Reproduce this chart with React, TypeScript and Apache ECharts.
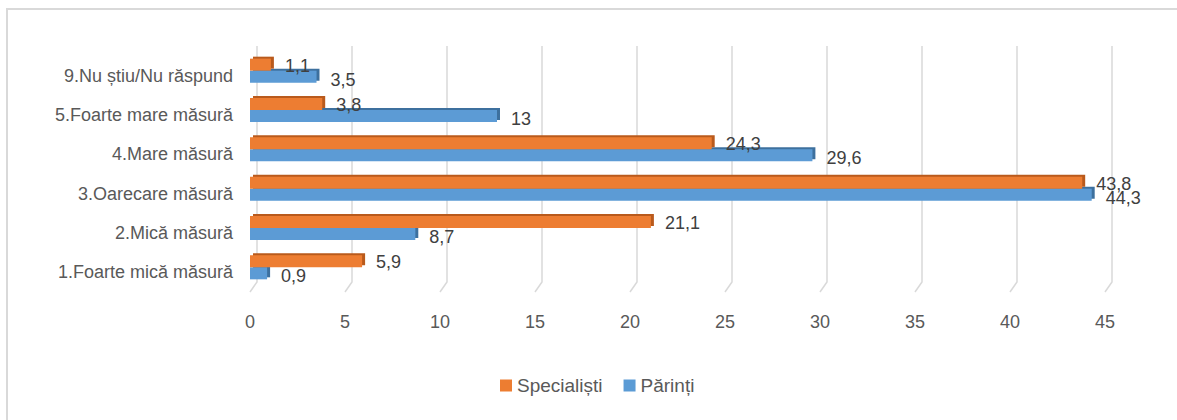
import React, { useEffect, useRef } from "react";
import * as echarts from "echarts";

const categories = [
  "1.Foarte mică măsură",
  "2.Mică măsură",
  "3.Oarecare măsură",
  "4.Mare măsură",
  "5.Foarte mare măsură",
  "9.Nu știu/Nu răspund",
];
const specialisti = [5.9, 21.1, 43.8, 24.3, 3.8, 1.1];
const parinti = [0.9, 8.7, 44.3, 29.6, 13, 3.5];
const xTicks = [0, 5, 10, 15, 20, 25, 30, 35, 40, 45];
const seriesNames = ["Specialiști", "Părinți"];

const FONT = "'Liberation Sans', Arial, sans-serif";
const fmt = (v: number) => String(v).replace(".", ",");

export default function App() {
  const ref = useRef<HTMLDivElement>(null);
  useEffect(() => {
    if (!ref.current) return;
    const chart = echarts.init(ref.current, undefined, { renderer: "svg" });
    const mkLabel = (dy: number) => ({
      show: true,
      position: "right",
      distance: 14,
      offset: [0, dy],
      color: "#404040",
      fontSize: 18,
      fontFamily: FONT,
      formatter: (p: any) => fmt(p.value),
    });
    chart.setOption({
      animation: false,
      backgroundColor: "transparent",
      textStyle: { fontFamily: FONT },
      grid: [
        { left: 250, right: 72, top: 51, bottom: 133 },
        { left: 250, right: 72, top: 56, bottom: 128 },
      ],
      xAxis: [
        {
          type: "value",
          gridIndex: 0,
          min: 0,
          max: 45,
          interval: 5,
          splitLine: { show: false },
          axisLine: { show: false },
          axisTick: { show: false },
          axisLabel: { color: "#595959", fontSize: 18, margin: 26, fontFamily: FONT },
        },
        {
          type: "value",
          gridIndex: 1,
          min: 0,
          max: 45,
          interval: 5,
          show: false,
        },
      ],
      yAxis: [
        {
          type: "category",
          gridIndex: 0,
          data: categories,
          axisLine: { show: false },
          axisTick: { show: false },
          axisLabel: { show: false },
          splitLine: { show: false },
        },
        {
          type: "category",
          gridIndex: 1,
          data: categories,
          axisLine: { show: false },
          axisTick: { show: false },
          splitLine: { show: false },
          axisLabel: { color: "#595959", fontSize: 18, margin: 17, fontFamily: FONT },
        },
      ],
      legend: {
        data: seriesNames,
        left: 500,
        top: 376,
        padding: 0,
        itemWidth: 12,
        itemHeight: 12,
        itemGap: 21,
        icon: "rect",
        textStyle: { color: "#595959", fontSize: 19, fontFamily: FONT },
      },
      series: [
        {
          type: "custom",
          name: "grid",
          xAxisIndex: 0,
          yAxisIndex: 0,
          silent: true,
          z: 0,
          data: xTicks.map((t) => [t, 0]),
          encode: { x: 0, y: 1 },
          renderItem: (params: any, api: any) => {
            const x = api.coord([api.value(0), 0])[0];
            const cs = params.coordSys;
            const top = cs.y - 5;
            const bottom = cs.y + cs.height + 5;
            return {
              type: "polyline",
              shape: {
                points: [
                  [x + 7, top],
                  [x + 7, bottom - 10],
                  [x, bottom],
                ],
              },
              style: { stroke: "#d9d9d9", lineWidth: 1.5, fill: null },
            };
          },
        },
        {
          type: "bar",
          name: seriesNames[0],
          xAxisIndex: 0,
          yAxisIndex: 0,
          data: specialisti,
          barWidth: 12,
          barGap: "0%",
          z: 3,
          itemStyle: {
            color: "#ED7D31",
            shadowColor: "#B95A1B",
            shadowOffsetX: 3,
            shadowOffsetY: -2,
            shadowBlur: 0,
          },
          label: mkLabel(1),
        },
        {
          type: "bar",
          name: seriesNames[1],
          xAxisIndex: 0,
          yAxisIndex: 0,
          data: parinti,
          barWidth: 12,
          barGap: "0%",
          z: 2,
          itemStyle: {
            color: "#5B9BD5",
            shadowColor: "#3E6F9E",
            shadowOffsetX: 3,
            shadowOffsetY: -2,
            shadowBlur: 0,
          },
          label: mkLabel(3),
        },
      ],
    });
    return () => chart.dispose();
  }, []);
  return (
    <div style={{ position: "fixed", left: 0, top: 0, width: 1177, height: 420, background: "#fff" }}>
      <div
        style={{
          position: "absolute",
          left: 6,
          top: 8,
          width: 1171,
          height: 412,
          boxSizing: "border-box",
          borderTop: "2px solid #d9d9d9",
          borderLeft: "2px solid #d9d9d9",
        }}
      />
      <div ref={ref} style={{ position: "absolute", left: 0, top: 0, width: 1177, height: 420 }} />
    </div>
  );
}
